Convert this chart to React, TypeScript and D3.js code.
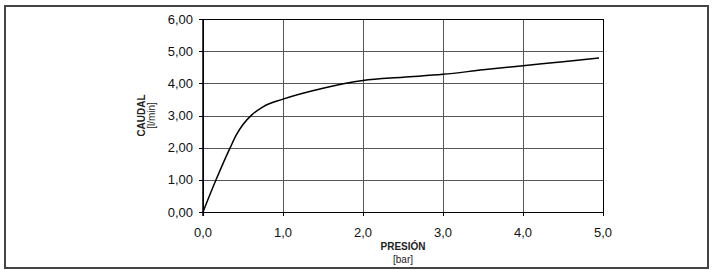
import React, { useEffect, useRef } from 'react';
import * as d3 from 'd3';

// Caudal vs presión curve
const presion = [0, 0.163, 0.34, 0.42, 0.5, 0.61, 0.75, 1.0, 1.5, 2.0, 2.5, 3.0, 3.5, 4.0, 4.5, 4.95];
const caudal = [0, 1.0, 2.0, 2.41, 2.72, 3.02, 3.27, 3.51, 3.85, 4.09, 4.19, 4.28, 4.42, 4.55, 4.67, 4.79];
const xTicks = [0, 1, 2, 3, 4, 5];
const yTicks = [0, 1, 2, 3, 4, 5, 6];

const W = 713;
const H = 270;
const margin = { left: 203, right: 110, top: 19, bottom: 58 };
const font = 'Arial, "Liberation Sans", sans-serif';

const App = () => {
  const svgRef = useRef<SVGSVGElement>(null);

  useEffect(() => {
    const svg = d3.select(svgRef.current);
    svg.selectAll('*').remove();

    const x = d3.scaleLinear().domain([0, 5]).range([margin.left, W - margin.right]);
    const y = d3.scaleLinear().domain([0, 6]).range([H - margin.bottom, margin.top]);

    // outer frame
    svg.append('rect')
      .attr('x', 5).attr('y', 6).attr('width', 703).attr('height', 262)
      .attr('fill', '#fff').attr('stroke', '#444').attr('stroke-width', 2);

    // grid
    const grid = svg.append('g').attr('stroke', '#555').attr('stroke-width', 1).attr('shape-rendering', 'crispEdges');
    grid.selectAll('line.h').data(yTicks.slice(1, -1)).join('line')
      .attr('x1', x(0)).attr('x2', x(5)).attr('y1', d => Math.round(y(d)) + 0.5).attr('y2', d => Math.round(y(d)) + 0.5);
    grid.selectAll('line.v').data(xTicks.slice(1, -1)).join('line')
      .attr('y1', y(0)).attr('y2', y(6)).attr('x1', d => Math.round(x(d)) + 0.5).attr('x2', d => Math.round(x(d)) + 0.5);

    // plot border
    svg.append('rect')
      .attr('x', x(0)).attr('y', y(6)).attr('width', x(5) - x(0)).attr('height', y(0) - y(6))
      .attr('fill', 'none').attr('stroke', '#000').attr('stroke-width', 1).attr('shape-rendering', 'crispEdges');
    svg.append('line')
      .attr('x1', x(0)).attr('x2', x(0)).attr('y1', y(6)).attr('y2', y(0) + 4)
      .attr('stroke', '#000').attr('stroke-width', 1.5);

    // ticks
    const ticks = svg.append('g').attr('stroke', '#000').attr('stroke-width', 1).attr('shape-rendering', 'crispEdges');
    ticks.selectAll('line.yt').data(yTicks).join('line')
      .attr('x1', x(0) - 4).attr('x2', x(0)).attr('y1', d => Math.round(y(d)) + 0.5).attr('y2', d => Math.round(y(d)) + 0.5);
    const ticksX = svg.append('g').attr('stroke', '#000').attr('stroke-width', 1).attr('shape-rendering', 'crispEdges');
    ticksX.selectAll('line').data(xTicks).join('line')
      .attr('y1', y(0)).attr('y2', y(0) + 4).attr('x1', d => Math.round(x(d)) + 0.5).attr('x2', d => Math.round(x(d)) + 0.5);

    // tick labels
    svg.append('g').selectAll('text').data(yTicks).join('text')
      .attr('x', x(0) - 10).attr('y', d => y(d)).attr('dy', '0.35em')
      .attr('text-anchor', 'end').attr('font-family', font).attr('font-size', 13).attr('fill', '#111')
      .text(d => d3.format('.2f')(d).replace('.', ','));
    svg.append('g').selectAll('text').data(xTicks).join('text')
      .attr('x', d => x(d)).attr('y', y(0) + 25)
      .attr('text-anchor', 'middle').attr('font-family', font).attr('font-size', 13).attr('fill', '#111')
      .text(d => d3.format('.1f')(d).replace('.', ','));

    // axis titles
    const cx = (x(0) + x(5)) / 2;
    svg.append('text').attr('x', cx).attr('y', 250).attr('text-anchor', 'middle')
      .attr('font-family', font).attr('font-size', 10).attr('font-weight', 'bold').attr('fill', '#222').text('PRESIÓN');
    svg.append('text').attr('x', cx).attr('y', 263).attr('text-anchor', 'middle')
      .attr('font-family', font).attr('font-size', 10).attr('fill', '#222').text('[bar]');
    const cy = (y(0) + y(6)) / 2;
    svg.append('text').attr('transform', `translate(145,${cy}) rotate(-90)`).attr('text-anchor', 'middle')
      .attr('font-family', font).attr('font-size', 10).attr('font-weight', 'bold').attr('fill', '#222').text('CAUDAL');
    svg.append('text').attr('transform', `translate(155,${cy}) rotate(-90)`).attr('text-anchor', 'middle')
      .attr('font-family', font).attr('font-size', 10).attr('fill', '#222').text('[l/min]');

    // curve
    const line = d3.line<number>()
      .x((_, i) => x(presion[i]))
      .y(d => y(d))
      .curve(d3.curveMonotoneX);
    svg.append('path').datum(caudal)
      .attr('d', line)
      .attr('fill', 'none').attr('stroke', '#000').attr('stroke-width', 1.5);
  }, []);

  return (
    <svg ref={svgRef} width={W} height={H} style={{ position: 'absolute', left: 0, top: 0 }} />
  );
};

export default App;
